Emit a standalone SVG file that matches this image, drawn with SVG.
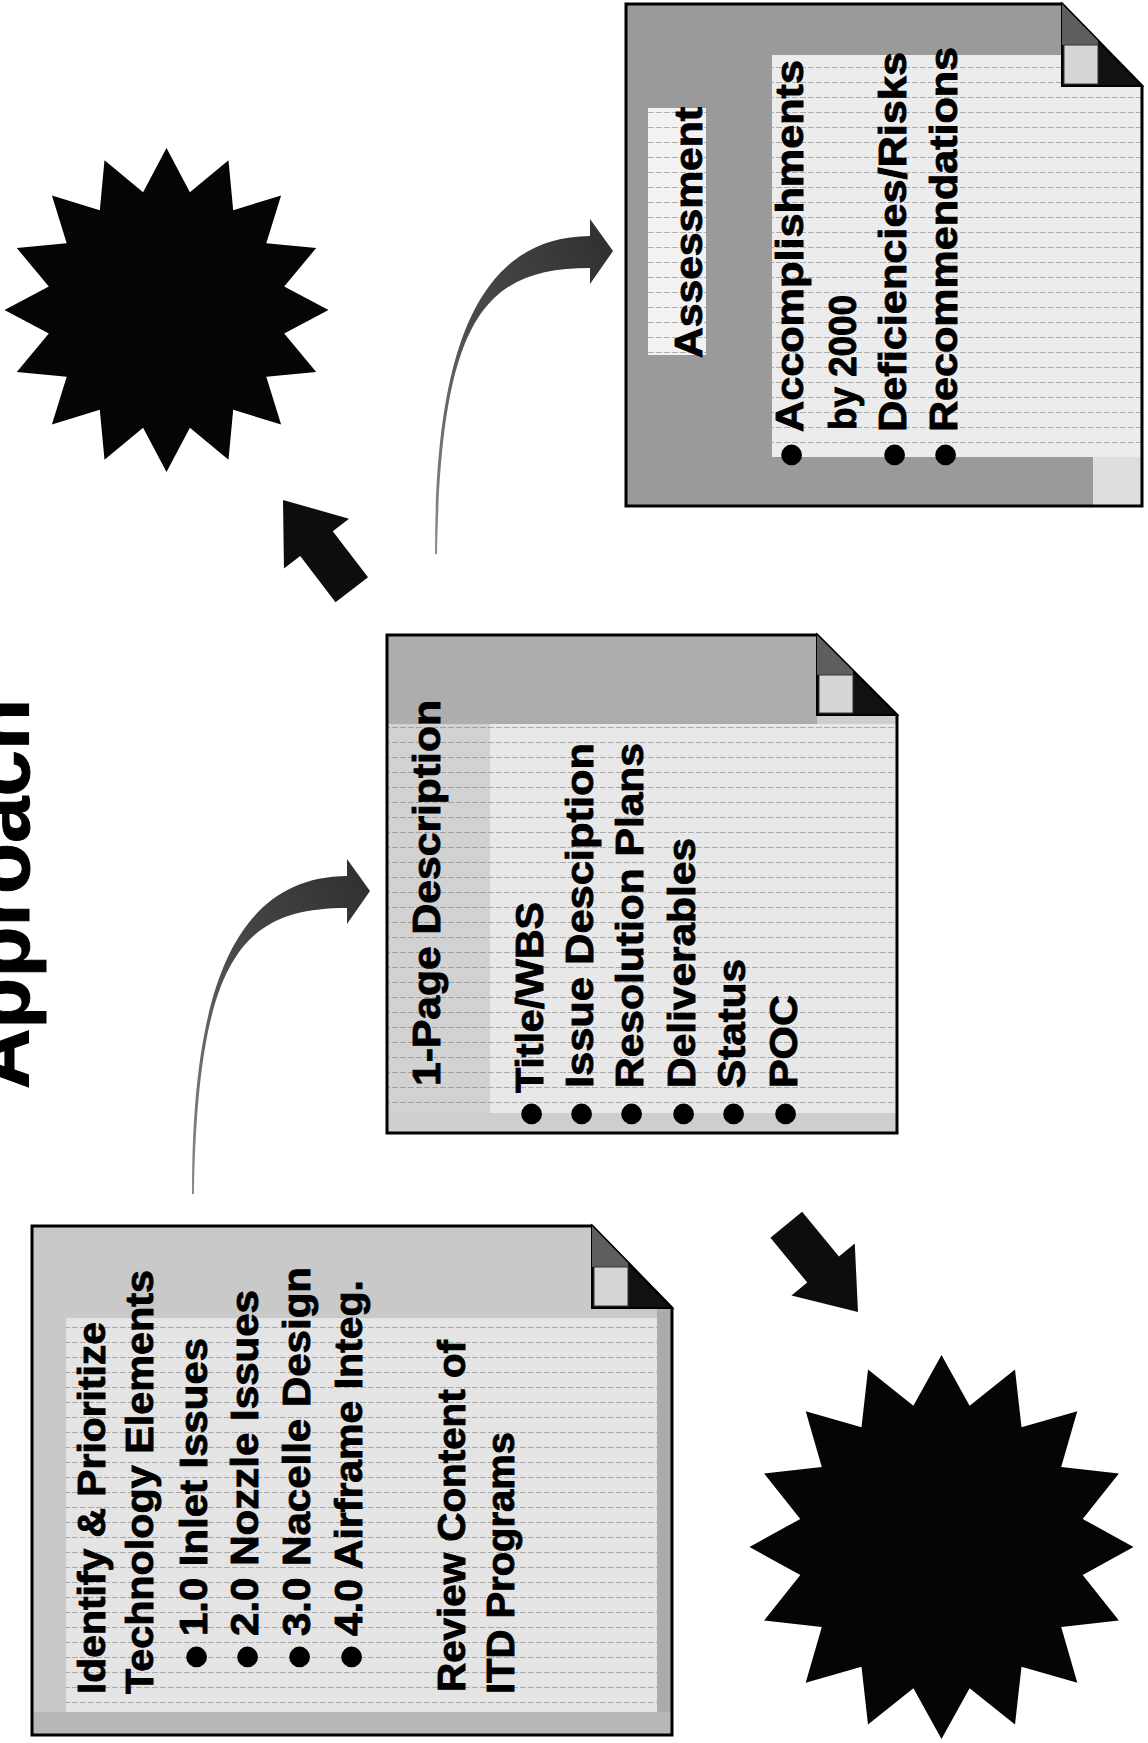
<svg xmlns="http://www.w3.org/2000/svg" xmlns:xlink="http://www.w3.org/1999/xlink" width="1148" height="1743" viewBox="0 0 1148 1743">
<style>
.t{font-family:"Liberation Sans",Arial,Helvetica,sans-serif;font-weight:bold;font-size:38px;fill:#000;stroke:#000;stroke-width:0.9}
.ttl{font-size:84px;stroke-width:1}
.b{font-family:"Liberation Sans",Arial,Helvetica,sans-serif;font-weight:bold;font-size:72px;fill:#000}
.frame{fill:none;stroke:#000;stroke-width:3;stroke-linejoin:miter}
.foldbg{fill:#111;stroke:#000;stroke-width:2}
.foldgray{fill:#5e5e5e}
.foldlight{fill:#d6d6d6;stroke:#333;stroke-width:1}
.star{fill:#050505}
.blk{fill:#0d0d0d}
.crv{fill:url(#crvGrad)}
</style>
<defs>
<pattern id="rule" width="8" height="15" patternUnits="userSpaceOnUse">
<path d="M0 7.5H6" stroke="#7a7a7a" stroke-width="1" opacity="0.55"/>
</pattern>
<linearGradient id="crvGrad" x1="0" y1="1" x2="1" y2="0">
<stop offset="0" stop-color="#8c8c8c"/>
<stop offset="0.45" stop-color="#4a4a4a"/>
<stop offset="1" stop-color="#2e2e2e"/>
</linearGradient>
<clipPath id="clip1"><path d="M32,1226 H592 L672,1308 V1735 H32 Z"/></clipPath>
<clipPath id="clip2"><path d="M387,635 H817 L897,715 V1133 H387 Z"/></clipPath>
<clipPath id="clip3"><path d="M626,4 H1062 L1142,86 V506 H626 Z"/></clipPath>
<path id="curveArrow" d="M192,1194 C192,1010 225,877 347,876 L347,859 L370,891 L347,924 L347,908 C240,908 198,960 194,1194 Z"/>
<path id="blockArrow" d="M0,0 L-55,-41 L-55,-20.5 L-113,-20.5 L-113,20.5 L-55,20.5 L-55,41 Z"/>
</defs>
<rect width="1148" height="1743" fill="#fff"/>

<g id="title">
<text class="t ttl" transform="translate(29,1089) rotate(-90)" textLength="390" lengthAdjust="spacingAndGlyphs">Approach</text>
</g>

<g id="starburst-top">
<polygon class="star" points="166.5,148 189.9,192.3 228.5,160.3 233.2,210.2 281.1,195.4 266.3,243.3 316.2,248 284.2,286.6 328.5,310 284.2,333.4 316.2,372 266.3,376.7 281.1,424.6 233.2,409.8 228.5,459.7 189.9,427.7 166.5,472 143.1,427.7 104.5,459.7 99.8,409.8 51.9,424.6 66.7,376.7 16.8,372 48.8,333.4 4.5,310 48.8,286.6 16.8,248 66.7,243.3 51.9,195.4 99.8,210.2 104.5,160.3 143.1,192.3"/>
</g>

<g id="starburst-bottom">
<polygon class="star" points="941.5,1355 969.6,1405.8 1015,1369.6 1021.5,1427.3 1077.3,1411.2 1061.2,1467 1118.9,1473.5 1082.7,1518.9 1133.5,1547 1082.7,1575.1 1118.9,1620.5 1061.2,1627 1077.3,1682.8 1021.5,1666.7 1015,1724.4 969.6,1688.2 941.5,1739 913.4,1688.2 868,1724.4 861.5,1666.7 805.7,1682.8 821.8,1627 764.1,1620.5 800.3,1575.1 749.5,1547 800.3,1518.9 764.1,1473.5 821.8,1467 805.7,1411.2 861.5,1427.3 868,1369.6 913.4,1405.8"/>
</g>

<g id="box-identify">
<g clip-path="url(#clip1)">
<rect x="32" y="1226" width="640" height="509" fill="#c9c9c9"/>
<rect x="66" y="1318" width="591" height="394" fill="#e4e4e4"/>
<rect x="66" y="1318" width="591" height="394" fill="url(#rule)"/>
<rect x="657" y="1308" width="15" height="427" fill="#ababab"/>
<rect x="32" y="1712" width="640" height="23" fill="#b8b8b8"/>
</g>
<path class="frame" d="M32,1226 H592 L672,1308 V1735 H32 Z"/>
<path class="foldbg" d="M592,1226 V1308 H672 Z"/>
<polygon class="foldgray" points="592,1226 628,1263 628,1267 592,1267"/>
<rect class="foldlight" x="594" y="1267" width="34" height="39"/>
<text class="t" transform="translate(105,1694) rotate(-90)" textLength="372" lengthAdjust="spacingAndGlyphs">Identify &amp; Prioritize</text>
<text class="t" transform="translate(153,1694) rotate(-90)" textLength="424" lengthAdjust="spacingAndGlyphs">Technology Elements</text>
<text class="b" transform="translate(195,1657) rotate(-90)" text-anchor="middle" dominant-baseline="central">•</text>
<text class="t" transform="translate(207,1636) rotate(-90)" textLength="298" lengthAdjust="spacingAndGlyphs">1.0 Inlet Issues</text>
<text class="b" transform="translate(246,1657) rotate(-90)" text-anchor="middle" dominant-baseline="central">•</text>
<text class="t" transform="translate(258,1636) rotate(-90)" textLength="346" lengthAdjust="spacingAndGlyphs">2.0 Nozzle Issues</text>
<text class="b" transform="translate(298,1657) rotate(-90)" text-anchor="middle" dominant-baseline="central">•</text>
<text class="t" transform="translate(310,1636) rotate(-90)" textLength="369" lengthAdjust="spacingAndGlyphs">3.0 Nacelle Design</text>
<text class="b" transform="translate(350,1657) rotate(-90)" text-anchor="middle" dominant-baseline="central">•</text>
<text class="t" transform="translate(362,1636) rotate(-90)" textLength="356" lengthAdjust="spacingAndGlyphs">4.0 Airframe Integ.</text>
<text class="t" transform="translate(465,1692) rotate(-90)" textLength="352" lengthAdjust="spacingAndGlyphs">Review Content of</text>
<text class="t" transform="translate(514,1694) rotate(-90)" textLength="262" lengthAdjust="spacingAndGlyphs">ITD Programs</text>
</g>

<g id="box-description">
<g clip-path="url(#clip2)">
<rect x="387" y="635" width="510" height="498" fill="#cecece"/>
<rect x="387" y="635" width="430" height="89" fill="#adadad"/>
<rect x="387" y="724" width="103" height="389" fill="#d2d2d2"/>
<rect x="490" y="724" width="407" height="389" fill="#e8e8e8"/>
<rect x="387" y="724" width="510" height="389" fill="url(#rule)"/>
</g>
<path class="frame" d="M387,635 H817 L897,715 V1133 H387 Z"/>
<path class="foldbg" d="M817,635 V715 H897 Z"/>
<polygon class="foldgray" points="817,635 853,671 853,675 817,675"/>
<rect class="foldlight" x="819" y="675" width="34" height="38"/>
<text class="t" transform="translate(440,1086) rotate(-90)" textLength="386" lengthAdjust="spacingAndGlyphs">1-Page Description</text>
<text class="b" transform="translate(530,1114) rotate(-90)" text-anchor="middle" dominant-baseline="central">•</text>
<text class="t" transform="translate(543,1093) rotate(-90)" textLength="191" lengthAdjust="spacingAndGlyphs">Title/WBS</text>
<text class="b" transform="translate(580,1114) rotate(-90)" text-anchor="middle" dominant-baseline="central">•</text>
<text class="t" transform="translate(593,1088) rotate(-90)" textLength="345" lengthAdjust="spacingAndGlyphs">Issue Desciption</text>
<text class="b" transform="translate(630,1114) rotate(-90)" text-anchor="middle" dominant-baseline="central">•</text>
<text class="t" transform="translate(643,1088) rotate(-90)" textLength="345" lengthAdjust="spacingAndGlyphs">Resolution Plans</text>
<text class="b" transform="translate(682,1114) rotate(-90)" text-anchor="middle" dominant-baseline="central">•</text>
<text class="t" transform="translate(695,1088) rotate(-90)" textLength="250" lengthAdjust="spacingAndGlyphs">Deliverables</text>
<text class="b" transform="translate(732,1114) rotate(-90)" text-anchor="middle" dominant-baseline="central">•</text>
<text class="t" transform="translate(745,1088) rotate(-90)" textLength="129" lengthAdjust="spacingAndGlyphs">Status</text>
<text class="b" transform="translate(784,1114) rotate(-90)" text-anchor="middle" dominant-baseline="central">•</text>
<text class="t" transform="translate(797,1088) rotate(-90)" textLength="93" lengthAdjust="spacingAndGlyphs">POC</text>
</g>

<g id="box-assessment">
<g clip-path="url(#clip3)">
<rect x="626" y="4" width="516" height="502" fill="#9a9a9a"/>
<rect x="772" y="55" width="370" height="402" fill="#ececec"/>
<rect x="1093" y="457" width="49" height="49" fill="#dedede"/>
<rect x="648" y="108" width="58" height="247" fill="#f2f2f2"/>
<rect x="772" y="55" width="370" height="402" fill="url(#rule)"/>
<rect x="648" y="108" width="58" height="247" fill="url(#rule)"/>
</g>
<path class="frame" d="M626,4 H1062 L1142,86 V506 H626 Z"/>
<path class="foldbg" d="M1062,4 V86 H1142 Z"/>
<polygon class="foldgray" points="1062,4 1098,41 1098,45 1062,45"/>
<rect class="foldlight" x="1064" y="45" width="34" height="39"/>
<text class="t" transform="translate(702,358) rotate(-90)" textLength="251" lengthAdjust="spacingAndGlyphs">Assessment</text>
<text class="b" transform="translate(790,455) rotate(-90)" text-anchor="middle" dominant-baseline="central">•</text>
<text class="t" transform="translate(803,432) rotate(-90)" textLength="372" lengthAdjust="spacingAndGlyphs">Accomplishments</text>
<text class="t" transform="translate(856,430) rotate(-90)" textLength="135" lengthAdjust="spacingAndGlyphs">by 2000</text>
<text class="b" transform="translate(893,455) rotate(-90)" text-anchor="middle" dominant-baseline="central">•</text>
<text class="t" transform="translate(906,432) rotate(-90)" textLength="380" lengthAdjust="spacingAndGlyphs">Deficiencies/Risks</text>
<text class="b" transform="translate(944,455) rotate(-90)" text-anchor="middle" dominant-baseline="central">•</text>
<text class="t" transform="translate(957,432) rotate(-90)" textLength="385" lengthAdjust="spacingAndGlyphs">Recommendations</text>
</g>

<g id="connectors">
<use xlink:href="#curveArrow" class="crv"/>
<use xlink:href="#curveArrow" class="crv" transform="translate(243,-640)"/>
<use xlink:href="#blockArrow" class="blk" transform="translate(283,500) rotate(232.5)"/>
<use xlink:href="#blockArrow" class="blk" transform="translate(858,1312) rotate(50.6)"/>
</g>
</svg>
